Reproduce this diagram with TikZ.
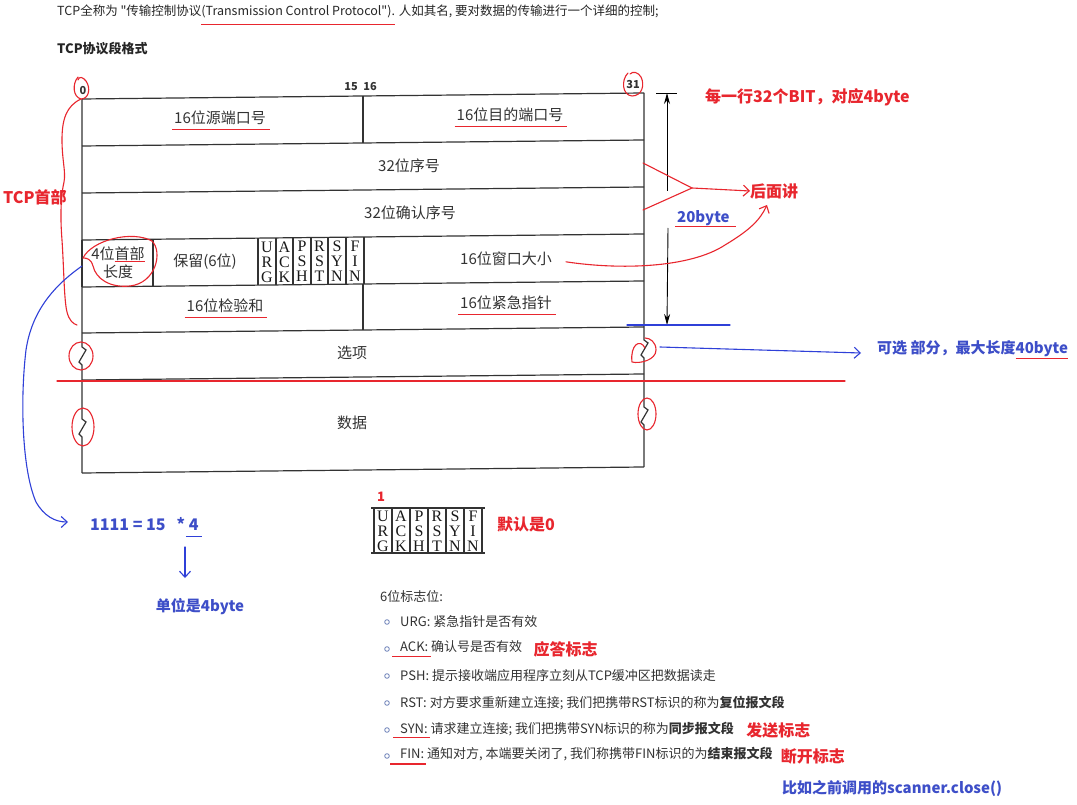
\documentclass[tikz,border=0pt]{standalone}
\usepackage{fontspec}
\newfontfamily\cjk{Noto Sans CJK SC}
\newfontfamily\flagfont{Liberation Serif}
\usetikzlibrary{arrows.meta,positioning}
\definecolor{anred}{HTML}{E8262E}
\definecolor{anblue}{HTML}{3D4EC8}
\definecolor{penblue}{HTML}{2F40D8}
\definecolor{ink}{HTML}{333333}
\definecolor{bullet}{HTML}{6A7FB8}
\newcommand\markul[5]{\setbox0\hbox{#5}\rlap{\hskip-#2\textcolor{#1}{\rule[-#4]{\dimexpr\wd0+#2+#3\relax}{1.2pt}}}\box0\relax}
\begin{document}
\begin{tikzpicture}[x=1pt,y=-1pt,
  txt/.style={font=\cjk\fontsize{13}{15}\selectfont, text=black!85, inner sep=0, anchor=west},
  tbl/.style={font=\cjk\fontsize{15}{18}\selectfont, text=ink, inner sep=0, align=center},
  flag/.style={font=\flagfont\fontsize{16}{15}\selectfont, text=black!90, inner sep=0, align=center},
  bitno/.style={font=\cjk\bfseries\fontsize{11}{12}\selectfont, text=ink, inner sep=0},
  rb/.style={font=\cjk\bfseries\fontsize{16}{18}\selectfont, text=anred, inner sep=0, anchor=west},
  bb/.style={font=\cjk\bfseries\fontsize{15}{18}\selectfont, text=anblue, inner sep=0, anchor=west},
  redpen/.style={draw=anred, line width=1.1pt, line cap=round, line join=round},
  bluepen/.style={draw=penblue, line width=1.1pt, line cap=round, line join=round},
  frame/.style={draw=ink, line width=1.2pt},
  barb/.style={-{Straight Barb[length=6pt,width=11pt]}},
  dimarrow/.style={-{Stealth[length=11pt,width=6pt]}, draw=black, line width=0.9pt},
]
\fill[white] (0,0) rectangle (1077,805);
\useasboundingbox (0,0) rectangle (1077,805);

% ---------- heading ----------
\node[txt, font=\cjk\fontsize{12.5}{15}\selectfont] (intro) at (57,15) {TCP全称为 "传输控制协议\markul{anred}{0pt}{3pt}{9pt}{(Transmission Control Protocol")}. 人如其名, 要对数据的传输进行一个详细的控制;};
\node[txt, font=\cjk\bfseries\fontsize{13}{15}\selectfont] (title) at (57,49) {TCP协议段格式};

% ---------- table ----------
\begin{scope}[shift={(82,99)}, yslant=0.0107]
  \draw[frame] (0,0) -- (562,0);
  \foreach \yy in {47,94,141,188,234,281,374} \draw[frame] (0,\yy) -- (562,\yy);
  \draw[frame] (0,0) -- (0,248) -- (4,251) -- (-3,263) -- (0,266) -- (0,320) -- (4,323) -- (-3,335) -- (0,338) -- (0,374);
  \draw[frame] (562,0) -- (562,247) -- (566,250) -- (559,262) -- (562,265) -- (562,314) -- (566,317) -- (559,329) -- (562,332) -- (562,374);
  \draw[frame] (281,0) -- (281,47);
  \draw[frame] (281,188) -- (281,234);
  \draw[frame, line width=1.8pt] (0,141) -- (0,188);
  \foreach \xx in {71,176,194,211,229,246,264,282} \draw[frame] (\xx,141) -- (\xx,188);
  \node[tbl] (srcport) at (138,23) {\markul{anred}{2pt}{4pt}{6pt}{16位源端口号}};
  \node[tbl] (dstport) at (428,23) {\markul{anred}{2pt}{4pt}{6pt}{16位目的端口号}};
  \node[tbl] (seq) at (327,70) {32位序号};
  \node[tbl] (ack) at (328,117) {32位确认序号};
  \node[tbl, font=\cjk\fontsize{15}{18}\selectfont] (hlen) at (36,164) {4位\markul{anred}{0pt}{0pt}{3pt}{首部}\\长度};
  \node[tbl] (resv) at (123,164) {保留(6位)};
  \node[flag] (fU) at (185,165) {U\\R\\G};
  \node[flag] (fA) at (202.5,165) {A\\C\\K};
  \node[flag] (fP) at (220,165) {P\\S\\H};
  \node[flag] (fR) at (237.5,165) {R\\S\\T};
  \node[flag] (fS) at (255,165) {S\\Y\\N};
  \node[flag] (fF) at (273,165) {F\\I\\N};
  \node[tbl] (win) at (424,164) {16位窗口大小};
  \node[tbl] (cks) at (143,211) {\markul{anred}{2pt}{4pt}{6pt}{16位检验和}};
  \node[tbl] (urgp) at (424,211) {\markul{anred}{2pt}{4pt}{6pt}{16位紧急指针}};
  \node[tbl] (opt) at (270,257) {选项};
  \node[tbl] (data) at (270,327) {数据};
  \coordinate (winend) at (484,168);
  \coordinate (hlenL) at (0,166);
\end{scope}

% bit numbers
\node[bitno] (b0) at (83,91) {0};
\node[bitno] (b15) at (351,87) {15};
\node[bitno] (b16) at (370,87) {16};
\node[bitno] (b31) at (633,85) {31};

% ---------- red annotations around the table ----------
\draw[redpen] (78,77) .. controls (72,84) and (73,97) .. (81,99) .. controls (89,99) and (91,88) .. (86,81) .. controls (83,77) and (79,76) .. (78,80);
\draw[redpen] (81,99) .. controls (66,106) and (62,120) .. (62,140) .. controls (62,160) and (66,172) .. (64,182) .. controls (61,195) and (60,215) .. (62,240) .. controls (64,270) and (64,300) .. (67,312) .. controls (69,320) and (73,324) .. (77,325);
\node[rb] (tcphdr) at (3,197) {TCP首部};
\draw[redpen] (628,73) .. controls (621,80) and (622,95) .. (632,96) .. controls (642,96) and (645,85) .. (641,77) .. controls (638,72) and (633,71) .. (630,74);
\draw[redpen] (83,258) .. controls (92,240) and (132,230) .. (152,241) .. controls (163,252) and (156,283) .. (130,286) .. controls (110,288) and (96,279) .. (93,266) .. controls (91,259) and (87,258) .. (83,258);
\draw[redpen] (81,356) ellipse (12 and 14);
\draw[redpen] (83,427) ellipse (11 and 19);
\draw[redpen] (645,348) .. controls (640,338) and (630,345) .. (632,362) .. controls (640,364) and (656,360) .. (656,350) .. controls (656,342) and (650,338) .. (645,338);
\draw[redpen] (647,414) ellipse (9 and 16);
\draw[redpen] (57,381) -- (845,381);

% 20byte dimension
\coordinate (dimtop) at (667,93);
\coordinate (dimbot) at (667,325);
\coordinate (dimmidA) at (667,191);
\coordinate (dimmidB) at (668,228);
\draw[draw=black, line width=0.9pt] (656,93) -- (677,93);
\draw[draw=black, line width=0.9pt] (656,325) -- (678,325);
\draw[dimarrow] (dimmidA) -- (dimtop);
\draw[dimarrow] (dimmidB) -- (dimbot);
\node[bb, font=\cjk\bfseries\fontsize{15}{18}\selectfont] (twenty) at (677,219) {\markul{anred}{2pt}{6pt}{4pt}{20byte}};
\draw[bluepen] (627,325) -- (730,325);
\node[rb] (perline) at (705,97) {每一行32个BIT，对应4byte};

% later / 后面讲
\coordinate (fork) at (692,188);
\node[rb] (later) at (750,191) {后面讲};
\draw[redpen] (643,163) -- (fork) -- (643,210);
\draw[redpen, barb] (fork) -- (later.west);
\draw[redpen, barb] (winend) .. controls (620,270) and (690,268) .. (725,245) .. controls (750,230) and (760,220) .. (767,205);

% optional part
\node[bb, font=\cjk\bfseries\fontsize{15}{18}\selectfont] (optional) at (877,350) {可选 部分，最大长度\markul{anred}{0pt}{0pt}{6pt}{40byte}};
\coordinate (optstart) at (660,347);
\draw[bluepen, barb] (optstart) -- ([xshift=-16pt,yshift=-3pt]optional.west);

% ---------- header length ----------
\node[bb, font=\cjk\bfseries\fontsize{16}{18}\selectfont] (fifteen) at (90,527) {1111 = 15\ \ \ * \markul{penblue}{3pt}{3pt}{7pt}{4}};
\node[bb, font=\cjk\bfseries\fontsize{15}{18}\selectfont, anchor=center] (unit) at (200,607) {单位是4byte};
\coordinate (hlenstart) at (82,266);
\draw[bluepen, barb] (hlenstart) .. controls (55,285) and (32,310) .. (26,350) .. controls (20,400) and (22,470) .. (36,502) .. controls (44,516) and (55,522) .. (68,522);
\coordinate (unitarrowtop) at (185,547);
\draw[bluepen, barb] (unitarrowtop) -- (185,578);

% ---------- small flag box ----------
\begin{scope}[shift={(374,508)}]
  \draw[frame] (-3,0) -- (111,0);
  \draw[frame] (-3,45) -- (111,45);
  \foreach \xx in {0,18,36,54,72,90,108} \draw[frame] (\xx,0) -- (\xx,45);
  \node[flag] (gU) at (9,23) {U\\R\\G};
  \node[flag] (gA) at (27,23) {A\\C\\K};
  \node[flag] (gP) at (45,23) {P\\S\\H};
  \node[flag] (gR) at (63,23) {R\\S\\T};
  \node[flag] (gS) at (81,23) {S\\Y\\N};
  \node[flag] (gF) at (99,23) {F\\I\\N};
\end{scope}
\node[rb, font=\cjk\bfseries\fontsize{13}{15}\selectfont, anchor=center] (one) at (381,497) {1};
\node[rb] (default) at (497,524) {默认是0};

% ---------- flag list ----------
\node[txt, text=ink] (flagstitle) at (380,597) {6位标志位:};
\foreach \yy in {622,649,676,703,730,756} \draw[bullet, line width=0.8pt] (387,\yy) circle (2.3);
\node[txt, text=ink] (lurg) at (400,622) {URG: 紧急指针是否有效};
\node[txt, text=ink] (lack) at (400,649) {\markul{anred}{8pt}{3pt}{5pt}{ACK:} 确认号是否有效};
\node[txt, text=ink] (lpsh) at (400,676) {PSH: 提示接收端应用程序立刻从TCP缓冲区把数据读走};
\node[txt, text=ink] (lrst) at (400,703) {RST: 对方要求重新建立连接; 我们把携带RST标识的称为\textbf{复位报文段}};
\node[txt, text=ink] (lsyn) at (400,730) {\markul{anred}{7pt}{2pt}{5pt}{SYN:} 请求建立连接; 我们把携带SYN标识的称为\textbf{同步报文段}};
\node[txt, text=ink] (lfin) at (400,756) {\markul{anred}{10pt}{2pt}{6pt}{FIN:} 通知对方, 本端要关闭了, 我们称携带FIN标识的为\textbf{结束报文段}};
\node[rb, right=11pt of lack.east] (ackmark) {应答标志};
\node[rb, right=12pt of lsyn.east] (synmark) {发送标志};
\node[rb, right=8pt of lfin.east] (finmark) {断开标志};
\node[bb, font=\cjk\bfseries\fontsize{15}{18}\selectfont] (closeex) at (782,789) {比如之前调用的scanner.close()};
\end{tikzpicture}
\end{document}
